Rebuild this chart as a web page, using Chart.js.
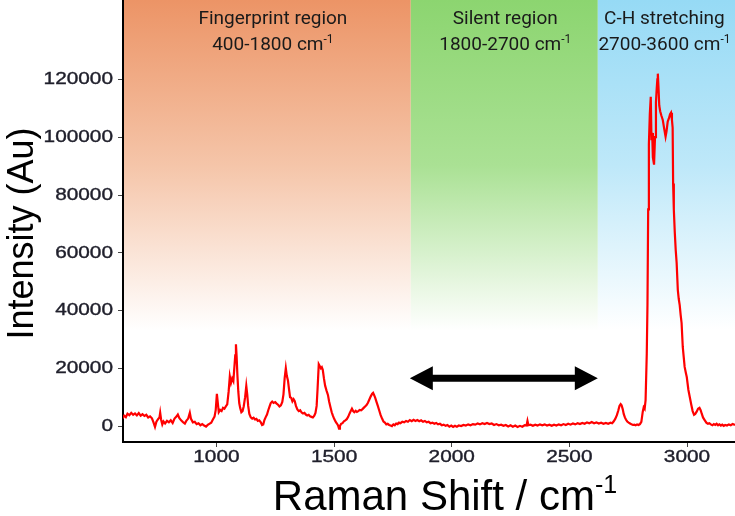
<!DOCTYPE html>
<html><head><meta charset="utf-8">
<script src="https://cdn.jsdelivr.net/npm/chart.js@4.4.1/dist/chart.umd.min.js"></script>
<style>html,body{margin:0;padding:0;background:#fff;overflow:hidden}#wrap{width:735px;height:516px;position:relative}</style>
</head><body><div id="wrap"><canvas id="c" width="735" height="516"></canvas></div>
<script>
// ---- data ----
const ramanShift = [600,608,615,622,630,638,646,654,662,670,678,686,694,702,710,718,726,733,739,745,752,758,761,765,770,775,782,790,798,806,814,822,830,836,842,850,858,866,872,880,887,892,900,908,916,924,932,940,948,956,963,970,978,985,992,997,1002,1006,1010,1016,1022,1028,1034,1040,1046,1052,1057,1062,1067,1072,1076,1080,1083,1086,1089,1093,1097,1101,1106,1111,1116,1122,1127,1131,1135,1140,1146,1152,1158,1164,1170,1176,1182,1188,1194,1199,1204,1210,1215,1220,1226,1231,1237,1243,1250,1256,1262,1268,1274,1280,1285,1290,1295,1299,1304,1309,1313,1318,1323,1328,1333,1338,1344,1350,1356,1362,1368,1374,1380,1386,1392,1398,1404,1410,1416,1421,1426,1430,1435,1439,1444,1448,1452,1457,1462,1468,1474,1479,1485,1490,1495,1500,1506,1512,1517,1521,1525,1530,1536,1542,1548,1554,1560,1566,1571,1576,1581,1586,1592,1597,1603,1609,1615,1621,1627,1632,1638,1644,1650,1656,1662,1666,1670,1675,1680,1686,1692,1698,1704,1710,1716,1722,1728,1734,1740,1746,1752,1758,1764,1770,1776,1782,1790,1798,1806,1814,1822,1830,1838,1846,1854,1862,1870,1878,1886,1894,1902,1910,1918,1926,1934,1942,1950,1958,1966,1974,1982,1990,1998,2006,2014,2022,2030,2040,2050,2060,2070,2080,2090,2100,2110,2120,2130,2140,2150,2160,2170,2180,2190,2200,2210,2220,2230,2240,2250,2260,2270,2280,2290,2300,2310,2318,2322,2326,2335,2345,2355,2365,2375,2385,2395,2405,2415,2425,2435,2445,2455,2465,2475,2485,2495,2505,2515,2525,2535,2545,2555,2565,2575,2585,2595,2605,2615,2625,2635,2645,2655,2665,2675,2682,2688,2695,2702,2708,2713,2718,2722,2727,2731,2736,2741,2746,2752,2758,2764,2770,2776,2782,2788,2794,2800,2806,2812,2816,2820,2824,2829,2832,2835,2838,2842,2846,2849,2852,2855,2860,2864,2868,2871,2874,2876,2879,2882,2886,2891,2897,2903,2909,2913,2918,2923,2928,2932,2936,2939,2941,2944,2948,2952,2956,2961,2965,2969,2973,2977,2982,2986,2990,2995,2999,3006,3012,3018,3024,3030,3035,3041,3047,3053,3058,3063,3068,3075,3083,3089,3095,3101,3108,3114,3120,3126,3132,3138,3144,3150,3156,3162,3170,3178,3186,3194,3204];
const intensity = [2600,3600,3100,4300,3800,4600,3900,4400,3700,4500,3600,4100,3500,3900,3000,3400,2700,1200,-300,1500,2400,3000,4600,2200,600,1600,900,1800,1300,2000,1100,2600,3300,4000,2800,2000,1400,900,1800,2600,4600,2500,1300,1500,700,1000,300,700,200,-200,400,800,1200,2300,3300,5500,11200,8000,4800,5600,5200,6300,6000,6800,7500,12000,17200,15000,16500,15600,20000,24500,28300,24000,18000,12000,8000,6300,4800,5200,6800,10000,13900,11000,7000,4200,3000,2600,2900,2300,2500,1800,2000,1400,400,600,2100,3200,4000,5400,6800,8000,8500,8000,8300,7800,7400,6800,7200,8400,11000,16500,20000,17500,15800,12500,10000,9800,8600,9300,8600,7000,5800,5200,5500,4700,4400,4600,4000,3700,3900,3400,3200,3000,3600,4600,7000,13000,21400,20800,20000,20400,19500,16500,14000,12300,10800,8500,6400,4800,3600,2600,1600,900,200,-900,0,800,1000,1700,2000,2400,3200,4400,5200,6000,5200,4800,5300,4900,5200,5600,5500,5900,6400,6800,7300,8100,9200,10300,11200,11500,10800,9800,8500,7000,5400,3800,2600,1600,1200,600,800,400,200,0,600,300,900,700,1200,1000,1500,1300,1800,1500,2100,1700,2200,1800,2100,1700,2000,1500,1800,1300,1500,1000,1200,800,1100,600,800,300,500,100,400,-200,200,-300,100,-200,200,0,400,200,600,300,700,500,900,600,1000,700,1100,700,900,400,700,300,500,100,400,-100,300,-200,200,-300,100,-200,300,200,1800,300,500,100,500,200,600,300,600,200,500,100,500,200,600,300,700,400,800,500,900,600,1000,700,1100,800,1300,1000,1400,1000,1300,900,1200,800,1100,800,1200,1000,1600,2500,3800,5400,7000,7600,7200,5800,4200,3000,2200,1600,1200,900,600,400,500,300,600,400,700,1500,5000,6500,6000,9000,25000,42000,75000,97500,108000,114000,99000,101500,93000,90500,100000,112000,116500,120000,122000,117000,111000,109000,107500,106000,103000,100200,102000,105400,106500,108000,108500,106000,103300,84000,75000,67200,61000,56500,47100,44000,41900,38500,35700,27400,24000,20500,18500,17000,12500,10000,7500,5200,3900,4200,5000,6000,6300,5500,4200,3000,2100,1100,800,1000,600,300,700,400,800,300,600,200,500,100,400,200,600,300,700,400];
const xTicks = [1000, 1500, 2000, 2500, 3000];
const yTicks = [0, 20000, 40000, 60000, 80000, 100000, 120000];
const xRange = [603, 3204];
const yRange = [-5500, 147500];
const regionNames = ['Fingerprint region', 'Silent region', 'C-H stretching'];
const regionRanges = ['400-1800 cm', '1800-2700 cm', '2700-3600 cm'];
const regionBounds = [603, 1826, 2621, 3204];
const regionFadeTo = 33000;
const arrowFrom = 1822, arrowTo = 2621, arrowY = 16600;
const xTitle = 'Raman Shift / cm', xTitleSup = '-1';
const yTitle = 'Intensity (Au)';

// ---- styles ----
const regionColors = [
  ['rgb(236,148,102)', 'rgb(245,197,169)'],
  ['rgb(140,213,112)', 'rgb(170,225,148)'],
  ['rgb(150,218,245)', 'rgb(190,232,249)']
];
const tickFontCss = '16px "Liberation Sans", Arial, sans-serif';
const tickStretch = 1.3;
const tickColor = '#20202c';

function supText(ctx, base, sup, cx, y, font, supFont, rise) {
  ctx.font = font; const wb = ctx.measureText(base).width;
  ctx.font = supFont; const ws = ctx.measureText(sup).width;
  const x0 = cx - (wb + ws) / 2;
  ctx.textAlign = 'left'; ctx.textBaseline = 'alphabetic';
  ctx.font = font; ctx.fillText(base, x0, y);
  ctx.font = supFont; ctx.fillText(sup, x0 + wb, y - rise);
}

function stretchedText(ctx, text, x, y, align, baseline) {
  ctx.save();
  ctx.translate(x, y); ctx.scale(tickStretch, 1);
  ctx.font = tickFontCss; ctx.textAlign = align; ctx.textBaseline = baseline;
  ctx.lineWidth = 0.35; ctx.strokeStyle = tickColor;
  ctx.fillText(text, 0, 0);
  ctx.strokeText(text, 0, 0);
  ctx.restore();
}

const decor = {
  id: 'decor',
  beforeDraw(chart) {
    const {ctx, chartArea: ca, scales: {x, y}} = chart;
    ctx.save();
    ctx.fillStyle = '#fff'; ctx.fillRect(0, 0, chart.width, chart.height);
    ctx.beginPath(); ctx.rect(ca.left, ca.top, ca.right - ca.left, ca.bottom - ca.top); ctx.clip();
    const yb = y.getPixelForValue(regionFadeTo);
    for (let i = 0; i < 3; i++) {
      const x0 = x.getPixelForValue(regionBounds[i]);
      const x1 = x.getPixelForValue(regionBounds[i + 1]);
      const g = ctx.createLinearGradient(0, ca.top, 0, yb);
      g.addColorStop(0, regionColors[i][0]);
      g.addColorStop(0.5, regionColors[i][1]);
      g.addColorStop(1, 'rgb(255,255,255)');
      ctx.fillStyle = g;
      ctx.fillRect(x0, ca.top, x1 - x0, yb - ca.top);
    }
    ctx.fillStyle = '#1a1a1a';
    for (let i = 0; i < 3; i++) {
      const x0 = x.getPixelForValue(regionBounds[i]);
      const x1 = x.getPixelForValue(regionBounds[i + 1]);
      const cx = (x0 + x1) / 2 + (i === 0 ? 6 : (i === 2 ? -2 : 1));
      ctx.font = '19px Roboto'; ctx.textAlign = 'center'; ctx.textBaseline = 'alphabetic';
      ctx.fillText(regionNames[i], cx, 24);
      supText(ctx, regionRanges[i], '-1', cx, 50, '19px Roboto', '12px Roboto', 7);
    }
    ctx.restore();
  },
  afterDatasetsDraw(chart) {
    const {ctx, scales: {x, y}} = chart;
    const xl = x.getPixelForValue(arrowFrom), xr = x.getPixelForValue(arrowTo), ya = y.getPixelForValue(arrowY);
    const hl = 23, hh = 12, sh = 3.5;
    ctx.save(); ctx.fillStyle = '#000';
    ctx.beginPath();
    ctx.moveTo(xl, ya); ctx.lineTo(xl + hl, ya - hh); ctx.lineTo(xl + hl, ya - sh);
    ctx.lineTo(xr - hl, ya - sh); ctx.lineTo(xr - hl, ya - hh); ctx.lineTo(xr, ya);
    ctx.lineTo(xr - hl, ya + hh); ctx.lineTo(xr - hl, ya + sh); ctx.lineTo(xl + hl, ya + sh);
    ctx.lineTo(xl + hl, ya + hh); ctx.closePath(); ctx.fill();
    ctx.restore();
  },
  afterDraw(chart) {
    const {ctx, chartArea: ca, scales: {x, y}} = chart;
    ctx.save();
    // tick labels from the library's scales
    ctx.fillStyle = tickColor;
    y.ticks.forEach(t => stretchedText(ctx, String(t.value), ca.left - 10, y.getPixelForValue(t.value) + 0.5, 'right', 'middle'));
    x.ticks.forEach(t => stretchedText(ctx, String(t.value), x.getPixelForValue(t.value), ca.bottom + 8, 'center', 'top'));
    // axis titles
    ctx.fillStyle = '#000';
    supText(ctx, xTitle, xTitleSup, 445, 510, '42px "Liberation Sans"', '25px "Liberation Sans"', 17);
    ctx.translate(33, 233.5); ctx.rotate(-Math.PI / 2);
    ctx.font = '36px "Liberation Sans"'; ctx.textAlign = 'center'; ctx.textBaseline = 'alphabetic';
    ctx.fillText(yTitle, 0, 0);
    ctx.restore();
  }
};

new Chart(document.getElementById('c'), {
  type: 'line',
  data: {
    datasets: [{
      data: ramanShift.map((v, i) => ({x: v, y: intensity[i]})),
      borderColor: '#ff0000', borderWidth: 2.2, pointRadius: 0, tension: 0, fill: false
    }]
  },
  options: {
    responsive: false, animation: false, devicePixelRatio: 1,
    layout: {padding: 0},
    plugins: {legend: {display: false}, tooltip: {enabled: false}, title: {display: false}},
    scales: {
      x: {
        type: 'linear', min: xRange[0], max: xRange[1],
        afterBuildTicks: s => { s.ticks = xTicks.map(v => ({value: v})); },
        afterFit: s => { s.height = 74; s.paddingLeft = 0; s.paddingRight = 0; },
        grid: {display: true, drawOnChartArea: false, drawTicks: true, tickLength: 5, tickWidth: 1, tickColor: '#444'},
        border: {display: true, color: '#000', width: 2},
        ticks: {display: false}
      },
      y: {
        type: 'linear', min: yRange[0], max: yRange[1],
        afterBuildTicks: s => { s.ticks = yTicks.map(v => ({value: v})); },
        afterFit: s => { s.width = 123; s.paddingTop = 0; s.paddingBottom = 0; },
        grid: {display: true, drawOnChartArea: false, drawTicks: true, tickLength: 5, tickWidth: 1, tickColor: '#444'},
        border: {display: true, color: '#000', width: 2},
        ticks: {display: false}
      }
    }
  },
  plugins: [decor]
});
</script></body></html>
